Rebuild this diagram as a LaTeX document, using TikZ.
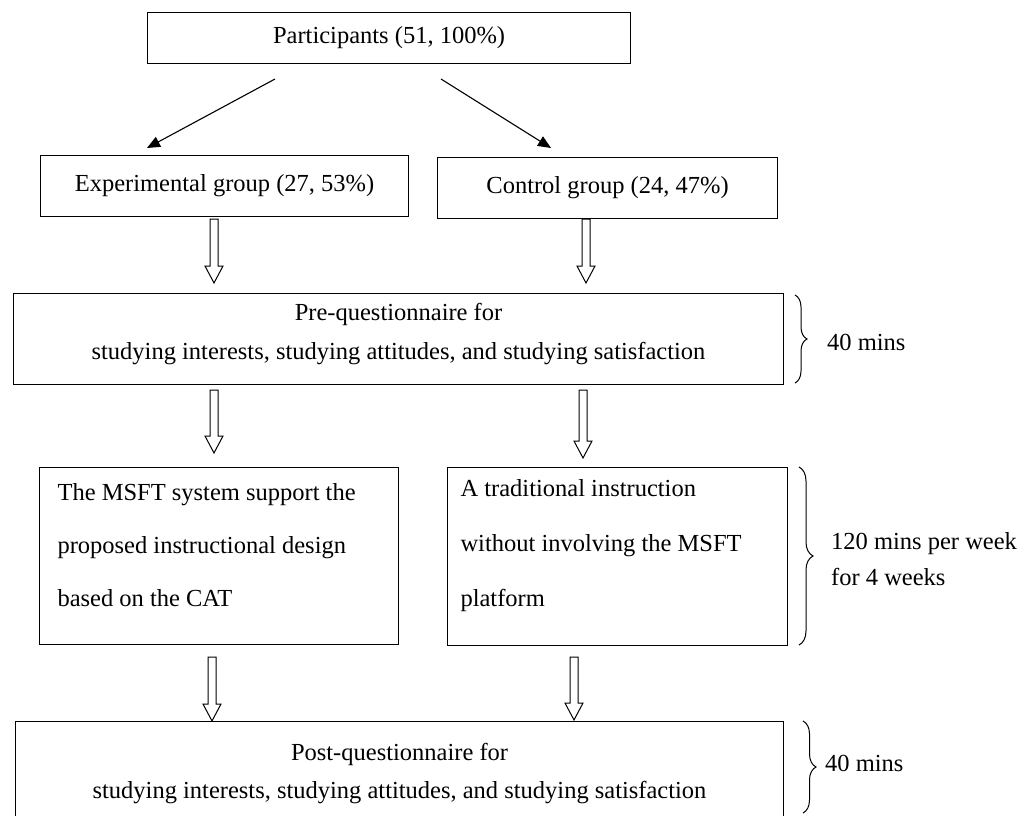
\documentclass[tikz,border=0pt]{standalone}
\usepackage{fontspec}
\setmainfont{Liberation Serif}
\usetikzlibrary{arrows.meta,calc,decorations.pathreplacing}
\newcommand\hollowarrow[2]{%
  \draw[harrow] ($(#1)+(-4,0)$) -- ($(#2)+(-4,-17)$) -- ($(#2)+(-9,-17)$) -- (#2)
     -- ($(#2)+(9,-17)$) -- ($(#2)+(4,-17)$) -- ($(#1)+(4,0)$) -- cycle;}
\begin{document}
\begin{tikzpicture}[x=1pt,y=-1pt,
  txt/.style={font=\fontsize{24.5}{29}\selectfont},
  box/.style={draw, line width=1.1pt, inner sep=0pt, anchor=north west, txt},
  inner/.style={inner sep=0pt, anchor=center},
  harrow/.style={draw, line width=1pt, fill=white, line join=miter},
  blackarrow/.style={line width=1.1pt, -{Triangle[length=13pt,width=11pt]}},
  bracestyle/.style={draw, line width=1pt, decorate, decoration={brace, amplitude=#1}},
  lbl/.style={anchor=west, inner sep=0pt, txt}]
\useasboundingbox (0,0) rectangle (1031,816);
\clip (0,0) rectangle (1031,816);

% boxes
\node[box, minimum width=483pt, minimum height=51pt] (part) at (147,12) {Participants (51, 100\%)};
\node[box, minimum width=368pt, minimum height=61pt] (exp) at (40,155) {Experimental group (27, 53\%)};
\node[box, minimum width=340pt, minimum height=61pt] (ctrl) at (437,157) {Control group (24, 47\%)};
\node[box, minimum width=770pt, minimum height=91pt] (pre) at (13,293) {};
\node[box, minimum width=359pt, minimum height=177pt] (msft) at (39,467) {};
\node[box, minimum width=340pt, minimum height=178pt] (trad) at (447,467) {};
\node[box, minimum width=768pt, minimum height=98pt] (post) at (15,721) {};

% box texts
\node[inner, align=center, font=\fontsize{24.5}{39}\selectfont] (pretext) at ($(pre.center)+(0,-5)$)
  {Pre-questionnaire for\\studying interests, studying attitudes, and studying satisfaction};
\node[inner, text width=323pt, align=flush left, font=\fontsize{24.5}{53}\selectfont] (msfttext)
  at ($(msft.center)+(0,-11)$)
  {The MSFT system support the\\proposed instructional design\\based on the CAT};
\node[inner, text width=314pt, align=flush left, font=\fontsize{24.5}{55}\selectfont] (tradtext)
  at ($(trad.center)+(0,-11)$)
  {A traditional instruction\\without involving the MSFT\\platform};
\node[inner, align=center, font=\fontsize{24.5}{38}\selectfont] (posttext) at ($(post.center)+(0,3)$)
  {Post-questionnaire for\\studying interests, studying attitudes, and studying satisfaction};

% black arrows
\coordinate (p1) at (275,79);
\coordinate (e1) at (147,148);
\coordinate (p2) at (441,79);
\coordinate (c1) at (551,148);
\draw[blackarrow] (p1) -- (e1);
\draw[blackarrow] (p2) -- (c1);

% hollow arrows
\coordinate (a1s) at (214,219); \coordinate (a1e) at (214,283);
\coordinate (a2s) at (586,219); \coordinate (a2e) at (586,283);
\coordinate (a3s) at (214,390); \coordinate (a3e) at (214,453);
\coordinate (a4s) at (583,390); \coordinate (a4e) at (583,458);
\coordinate (a5s) at (212,657); \coordinate (a5e) at (212,721);
\coordinate (a6s) at (574,657); \coordinate (a6e) at (574,720);
\hollowarrow{a1s}{a1e}
\hollowarrow{a2s}{a2e}
\hollowarrow{a3s}{a3e}
\hollowarrow{a4s}{a4e}
\hollowarrow{a5s}{a5e}
\hollowarrow{a6s}{a6e}

% braces
\coordinate (b1t) at (795,295); \coordinate (b1b) at (795,383);
\coordinate (b2t) at (799,467); \coordinate (b2b) at (799,645);
\coordinate (b3t) at (803,721); \coordinate (b3b) at (803,813);
\path[bracestyle=12pt] (b1t) -- (b1b);
\path[bracestyle=14pt] (b2t) -- (b2b);
\path[bracestyle=13pt] (b3t) -- (b3b);
\node[lbl] (t1) at (827,342) {40 mins};
\node[lbl, align=left, font=\fontsize{24.5}{36}\selectfont] (t2) at (831,559) {120 mins per week\\for 4 weeks};
\node[lbl] (t3) at (825,763) {40 mins};
\end{tikzpicture}
\end{document}
